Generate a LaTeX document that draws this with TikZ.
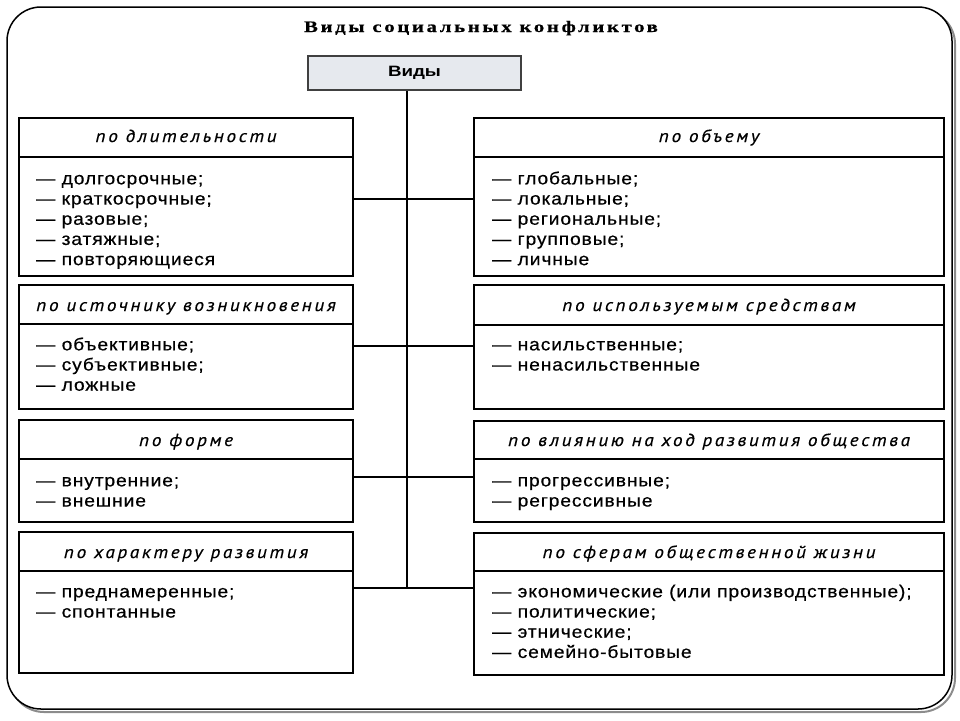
\documentclass[tikz,border=0pt]{standalone}
\usepackage{fontspec}
\setmainfont{Liberation Sans}
\newfontfamily\titlefont[FakeStretch=1.3,LetterSpace=16.5,FakeBold=0.6]{Liberation Serif}
\newfontfamily\itemfont[FakeStretch=1.1,LetterSpace=5,FakeBold=0.5]{Liberation Sans}
\newfontfamily\headfont[FakeStretch=1.1,LetterSpace=15,FakeBold=0.4]{PT Sans}
\newfontfamily\vidfont[FakeStretch=1.25]{Liberation Sans}
\definecolor{vidfill}{HTML}{E6E9EE}
\definecolor{shadowgray}{HTML}{8C8C8C}
\begin{document}
\begin{tikzpicture}[x=1pt,y=-1pt,
  box/.style={draw=black, line width=2.2pt, rectangle, inner sep=0pt, anchor=north west, minimum width=334pt},
  rbox/.style={box, minimum width=470pt},
  divider/.style={line width=2.2pt, black},
  conn/.style={line width=2pt, black},
  head/.style={font=\headfont\itshape\fontsize{17.5}{20}\selectfont, inner sep=0pt, anchor=base},
  items/.style={font=\itemfont\fontsize{17.5}{20.2}\selectfont, align=left, inner sep=0pt, anchor=north west},
]
\useasboundingbox (0,0) rectangle (960,720);
% outer frame with shadow
\draw[shadowgray, line width=2pt, rounded corners=34pt] (10,10) rectangle (955,712);
\draw[black, line width=1.5pt, rounded corners=34pt, fill=white] (7,7) rectangle (952,709);

% title
\node[font=\titlefont\bfseries\fontsize{16}{18}\selectfont, inner sep=0pt, anchor=base] (title) at (481,32) {Виды социальных конфликтов};

% root
\node[draw=black!75, line width=2pt, fill=vidfill, rectangle, inner sep=0pt, minimum width=213pt, minimum height=34pt, anchor=north west, font=\vidfont\bfseries\fontsize{15}{16}\selectfont] (V) at (307,55) {Виды};

% left boxes
\node[box, minimum height=158pt] (L1) at (18,117) {};
\node[box, minimum height=124pt] (L2) at (18,284) {};
\node[box, minimum height=102pt] (L3) at (18,419) {};
\node[box, minimum height=141pt] (L4) at (18,531) {};
% right boxes
\node[rbox, minimum height=158pt] (R1) at (473,117) {};
\node[rbox, minimum height=124pt] (R2) at (473,284) {};
\node[rbox, minimum height=101pt] (R3) at (473,420) {};
\node[rbox, minimum height=142pt] (R4) at (473,532) {};

% dividers
\draw[divider] (L1.west |- 0,157) -- (L1.east |- 0,157);
\draw[divider] (L2.west |- 0,324) -- (L2.east |- 0,324);
\draw[divider] (L3.west |- 0,459) -- (L3.east |- 0,459);
\draw[divider] (L4.west |- 0,571) -- (L4.east |- 0,571);
\draw[divider] (R1.west |- 0,157) -- (R1.east |- 0,157);
\draw[divider] (R2.west |- 0,325) -- (R2.east |- 0,325);
\draw[divider] (R3.west |- 0,459) -- (R3.east |- 0,459);
\draw[divider] (R4.west |- 0,571) -- (R4.east |- 0,571);

% headers
\node[head] (L1h) at (L1.north |- 0,142) {по длительности};
\node[head] (L2h) at (L2.north |- 0,311) {по источнику возникновения};
\node[head] (L3h) at (L3.north |- 0,446) {по форме};
\node[head] (L4h) at (L4.north |- 0,558) {по характеру развития};
\node[head] (R1h) at (R1.north |- 0,142) {по объему};
\node[head] (R2h) at (R2.north |- 0,311) {по используемым средствам};
\node[head] (R3h) at (R3.north |- 0,446) {по влиянию на ход развития общества};
\node[head] (R4h) at (R4.north |- 0,558) {по сферам общественной жизни};

% items
\node[items] (L1i) at (36,170) {\strut— долгосрочные;\\— краткосрочные;\\— разовые;\\— затяжные;\\— повторяющиеся};
\node[items] (L2i) at (36,336) {\strut— объективные;\\— субъективные;\\— ложные};
\node[items] (L3i) at (36,472) {\strut— внутренние;\\— внешние};
\node[items] (L4i) at (36,583) {\strut— преднамеренные;\\— спонтанные};
\node[items] (R1i) at (492,170) {\strut— глобальные;\\— локальные;\\— региональные;\\— групповые;\\— личные};
\node[items] (R2i) at (492,336) {\strut— насильственные;\\— ненасильственные};
\node[items] (R3i) at (492,472) {\strut— прогрессивные;\\— регрессивные};
\node[items] (R4i) at (492,583) {\strut— экономические (или производственные);\\— политические;\\— этнические;\\— семейно-бытовые};

% connectors
\coordinate (tb) at (407,588);
\draw[conn] (V.south -| tb) -- (tb);
\draw[conn] (L1.east |- 0,199) -- (R1.west |- 0,199);
\draw[conn] (L2.east |- 0,346) -- (R2.west |- 0,346);
\draw[conn] (L3.east |- 0,477) -- (R3.west |- 0,477);
\draw[conn] (L4.east |- tb) -- (R4.west |- tb);
\end{tikzpicture}
\end{document}
